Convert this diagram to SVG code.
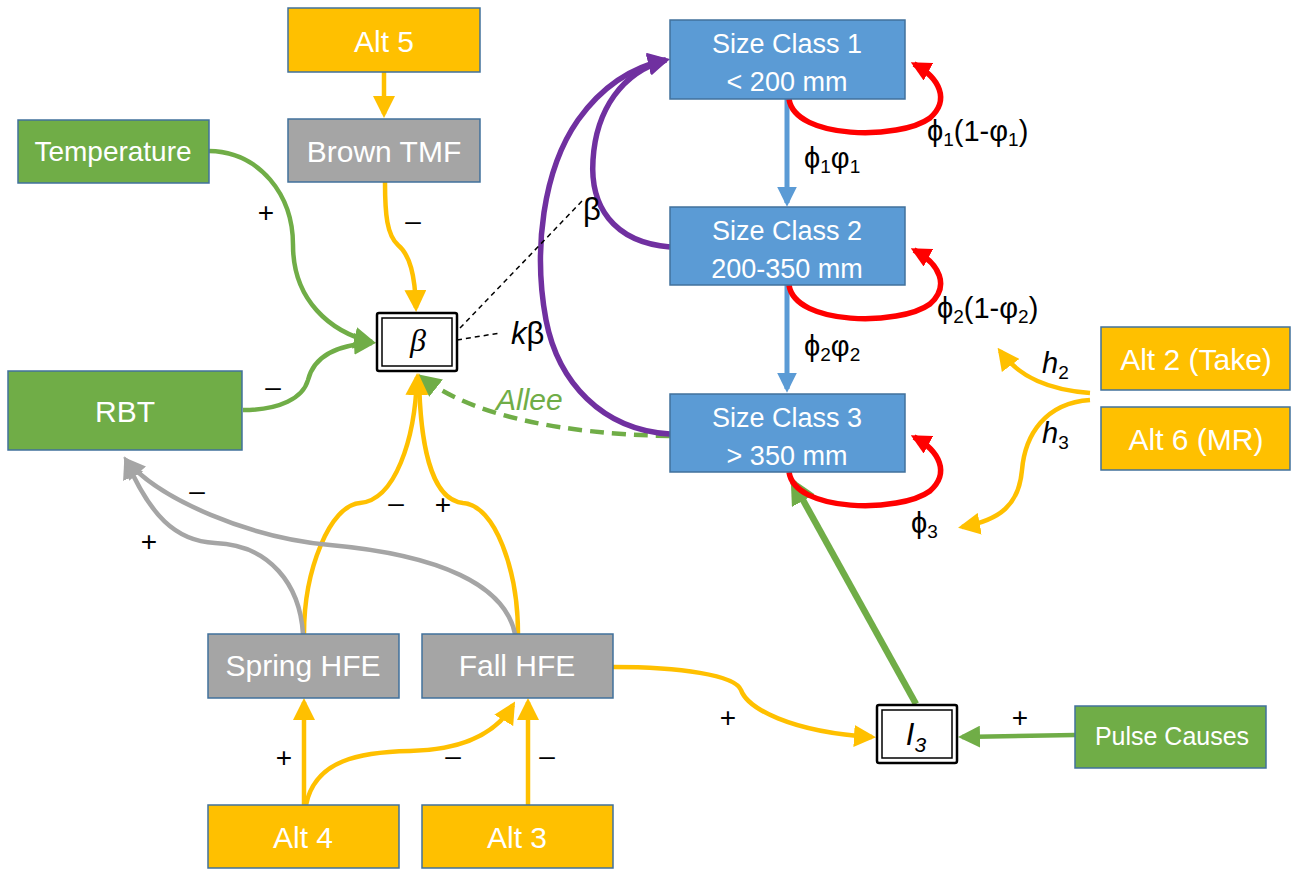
<svg xmlns="http://www.w3.org/2000/svg" width="1296" height="871" viewBox="0 0 1296 871">
<defs>
<style>
.box{stroke:#41719C;stroke-width:1.5}
.g{fill:#70AD47}.o{fill:#FFC000}.gr{fill:#A5A5A5}.b{fill:#5B9BD5}
.t{font-family:"Liberation Sans",Arial,sans-serif;font-size:30px;fill:#fff;text-anchor:middle}
.sc{font-size:27px}
.lbl{font-family:"Liberation Sans",Arial,sans-serif;font-size:28px;fill:#000;text-anchor:middle;dominant-baseline:central}
.m{font-family:"Liberation Sans","DejaVu Sans",sans-serif;font-size:29px;fill:#000}
.c{fill:none;stroke-width:4.5}
.co{stroke:#FFC000}.cg{stroke:#70AD47}.cgr{stroke:#A5A5A5}.cp{stroke:#7030A0;stroke-width:5.5}.cr{stroke:#FF0000;stroke-width:5.5}.cb{stroke:#5B9BD5;stroke-width:5}
.thick{stroke-width:6.5}
.dash{fill:none;stroke:#000;stroke-width:1.5;stroke-dasharray:5,4}
</style>
<marker id="ao" viewBox="0 0 22 22" markerWidth="22" markerHeight="22" refX="18" refY="11" orient="auto" markerUnits="userSpaceOnUse"><path d="M0,0 L22,11 L0,22 Z" fill="#FFC000"/></marker>
<marker id="ag" viewBox="0 0 22 22" markerWidth="22" markerHeight="22" refX="18" refY="11" orient="auto" markerUnits="userSpaceOnUse"><path d="M0,0 L22,11 L0,22 Z" fill="#70AD47"/></marker>
<marker id="agL" viewBox="0 0 22 22" markerWidth="26" markerHeight="26" refX="18" refY="11" orient="auto" markerUnits="userSpaceOnUse"><path d="M0,0 L22,11 L0,22 Z" fill="#70AD47"/></marker>
<marker id="agr" viewBox="0 0 22 22" markerWidth="22" markerHeight="22" refX="18" refY="11" orient="auto" markerUnits="userSpaceOnUse"><path d="M0,0 L22,11 L0,22 Z" fill="#A5A5A5"/></marker>
<marker id="ap" viewBox="0 0 22 22" markerWidth="22" markerHeight="22" refX="18" refY="11" orient="auto" markerUnits="userSpaceOnUse"><path d="M0,0 L22,11 L0,22 Z" fill="#7030A0"/></marker>
<marker id="ar" viewBox="0 0 22 22" markerWidth="20" markerHeight="20" refX="18" refY="11" orient="auto" markerUnits="userSpaceOnUse"><path d="M0,0 L22,11 L0,22 Z" fill="#FF0000"/></marker>
<marker id="ab" viewBox="0 0 22 22" markerWidth="20" markerHeight="20" refX="18" refY="11" orient="auto" markerUnits="userSpaceOnUse"><path d="M0,0 L22,11 L0,22 Z" fill="#5B9BD5"/></marker>
</defs>
<rect width="1296" height="871" fill="#fff"/>

<g id="connectors">
<path class="c co" d="M384,72 L384,114" marker-end="url(#ao)"/>
<path class="c co" d="M385,182 C385,215 387,235 398,245 C410,255 415,275 416,308" marker-end="url(#ao)"/>
<path class="c cg" d="M209,151 C260,152 293,195 293,245 C293,300 330,332 372,342" marker-end="url(#ag)"/>
<path class="c cg" d="M243,410 C280,410 303,398 308,380 C313,360 330,345 372,343" marker-end="url(#ag)"/>
<path class="c co" d="M304,634 C304,570 330,505 360,503 C395,500 415,440 417,377" marker-end="url(#ao)"/>
<path class="c co" d="M518,634 C518,570 495,505 463,503 C430,500 420,440 419,377" marker-end="url(#ao)"/>
<path class="c cg" d="M670,436 C560,434 470,415 422,377" stroke-dasharray="14,8" marker-end="url(#ag)"/>
<path class="c cgr" d="M303,634 C300,585 270,545 215,543 C175,541 150,515 126,460" marker-end="url(#agr)"/>
<path class="c cgr" d="M515,634 C505,585 440,555 330,545 C250,538 160,500 126,460" marker-end="url(#agr)"/>
<path class="c co" d="M304,805 L304,702" marker-end="url(#ao)"/>
<path class="c co" d="M306,805 C315,760 360,752 410,751 C460,750 495,735 513,705" marker-end="url(#ao)"/>
<path class="c co" d="M528,805 L528,702" marker-end="url(#ao)"/>
<path class="c co" d="M613,667 C680,667 735,675 741,690 C747,708 790,732 872,737" marker-end="url(#ao)"/>
<path class="c cg" d="M1075,735 L962,737" marker-end="url(#ag)"/>
<path class="c cg thick" d="M916,704 L793,482" marker-end="url(#agL)"/>
<path class="c cp" d="M670,247 C612,242 590,205 593,160 C596,110 622,72 666,60" marker-end="url(#ap)"/>
<path class="c cp" d="M670,434 C602,430 558,382 546,320 C533,250 543,170 578,120 C603,85 632,67 666,60" marker-end="url(#ap)"/>
<path class="c cb" d="M787,99 L787,203" marker-end="url(#ab)"/>
<path class="c cb" d="M787,285 L787,389" marker-end="url(#ab)"/>
<path class="c cr" d="M789,99 C795,140 900,140 930,118 C950,100 940,78 914,64" marker-end="url(#ar)"/>
<path class="c cr" d="M789,285 C795,326 900,326 930,304 C950,286 940,264 914,250" marker-end="url(#ar)"/>
<path class="c cr" d="M789,472 C795,513 900,513 930,491 C950,473 940,451 914,437" marker-end="url(#ar)"/>
<path class="c co" d="M1090,393 C1050,390 1020,378 1000,351" marker-end="url(#ao)"/>
<path class="c co" d="M1090,400 C1045,403 1025,435 1022,470 C1019,505 1000,520 962,527" marker-end="url(#ao)"/>
<path class="dash" d="M460,328 L583,200"/>
<path class="dash" d="M457,340 L500,333"/>
<text class="lbl" x="266" y="212">+</text>
<text class="lbl" x="413" y="220">–</text>
<text class="lbl" x="273" y="386">–</text>
<text class="lbl" x="197" y="490">–</text>
<text class="lbl" x="149" y="541">+</text>
<text class="lbl" x="396" y="502">–</text>
<text class="lbl" x="443" y="504">+</text>
<text class="lbl" x="284" y="757">+</text>
<text class="lbl" x="453" y="755">–</text>
<text class="lbl" x="547" y="755">–</text>
<text class="lbl" x="728" y="717">+</text>
<text class="lbl" x="1020" y="717">+</text>
<text class="m" x="583" y="220" style="font-size:31px">β</text>
<text class="m" x="511" y="344" style="font-size:31px"><tspan font-style="italic">k</tspan>β</text>
<text x="496" y="410" font-family="Liberation Sans,Arial,sans-serif" font-size="30" font-style="italic" fill="#70AD47">Allee</text>
<text class="m" x="927" y="141">ϕ<tspan font-size="19" dy="5">1</tspan><tspan dy="-5">(1-φ</tspan><tspan font-size="19" dy="5">1</tspan><tspan dy="-5">)</tspan></text>
<text class="m" x="804" y="168">ϕ<tspan font-size="19" dy="5">1</tspan><tspan dy="-5">φ</tspan><tspan font-size="19" dy="5">1</tspan></text>
<text class="m" x="937" y="318">ϕ<tspan font-size="19" dy="5">2</tspan><tspan dy="-5">(1-φ</tspan><tspan font-size="19" dy="5">2</tspan><tspan dy="-5">)</tspan></text>
<text class="m" x="804" y="356">ϕ<tspan font-size="19" dy="5">2</tspan><tspan dy="-5">φ</tspan><tspan font-size="19" dy="5">2</tspan></text>
<text class="m" x="911" y="533">ϕ<tspan font-size="19" dy="5">3</tspan></text>
<text class="m" x="1042" y="373"><tspan font-style="italic">h</tspan><tspan font-size="19" dy="6">2</tspan></text>
<text class="m" x="1042" y="443"><tspan font-style="italic">h</tspan><tspan font-size="19" dy="6">3</tspan></text>
</g>

<g id="alt5"><rect class="box o" x="288" y="8" width="192" height="64"/><text class="t" x="384" y="52">Alt 5</text></g>
<g id="brownTMF"><rect class="box gr" x="288" y="119" width="192" height="63"/><text class="t" x="384" y="162">Brown TMF</text></g>
<g id="temperature"><rect class="box g" x="18" y="120" width="191" height="63"/><text class="t" x="113" y="161" style="font-size:28px">Temperature</text></g>
<g id="rbt"><rect class="box g" x="8" y="371" width="234" height="79"/><text class="t" x="125" y="422">RBT</text></g>
<g id="sizeClass1"><rect class="box b" x="670" y="20" width="235" height="79"/><text class="t sc" x="787" y="53">Size Class 1</text><text class="t sc" x="787" y="91">&lt; 200 mm</text></g>
<g id="sizeClass2"><rect class="box b" x="670" y="207" width="235" height="78"/><text class="t sc" x="787" y="240">Size Class 2</text><text class="t sc" x="787" y="278">200-350 mm</text></g>
<g id="sizeClass3"><rect class="box b" x="670" y="394" width="235" height="78"/><text class="t sc" x="787" y="427">Size Class 3</text><text class="t sc" x="787" y="465">&gt; 350 mm</text></g>
<g id="alt2"><rect class="box o" x="1101" y="327" width="189" height="63"/><text class="t" x="1196" y="370">Alt 2 (Take)</text></g>
<g id="alt6"><rect class="box o" x="1101" y="407" width="189" height="63"/><text class="t" x="1196" y="450">Alt 6 (MR)</text></g>
<g id="springHFE"><rect class="box gr" x="208" y="634" width="191" height="64"/><text class="t" x="303" y="676">Spring HFE</text></g>
<g id="fallHFE"><rect class="box gr" x="422" y="634" width="191" height="64"/><text class="t" x="517" y="676">Fall HFE</text></g>
<g id="alt4"><rect class="box o" x="208" y="805" width="191" height="63"/><text class="t" x="303" y="848">Alt 4</text></g>
<g id="alt3"><rect class="box o" x="422" y="805" width="191" height="63"/><text class="t" x="517" y="848">Alt 3</text></g>
<g id="pulseCauses"><rect class="box g" x="1075" y="706" width="191" height="62"/><text class="t" x="1172" y="745" style="font-size:25px">Pulse Causes</text></g>
<g id="beta"><rect x="377" y="313" width="80" height="58" rx="2" fill="#fff" stroke="#000" stroke-width="2.5"/><rect x="382" y="318" width="70" height="48" fill="none" stroke="#000" stroke-width="1.5"/><text x="418" y="351" font-family="Liberation Serif,serif" font-style="italic" font-size="32" text-anchor="middle">β</text></g>
<g id="I3"><rect x="877" y="705" width="80" height="58" rx="2" fill="#fff" stroke="#000" stroke-width="2.5"/><rect x="882" y="710" width="70" height="48" fill="none" stroke="#000" stroke-width="1.5"/><text x="916" y="745" font-family="Liberation Sans,sans-serif" font-style="italic" font-size="31" text-anchor="middle">I<tspan font-size="21" dy="7">3</tspan></text></g>
</svg>
